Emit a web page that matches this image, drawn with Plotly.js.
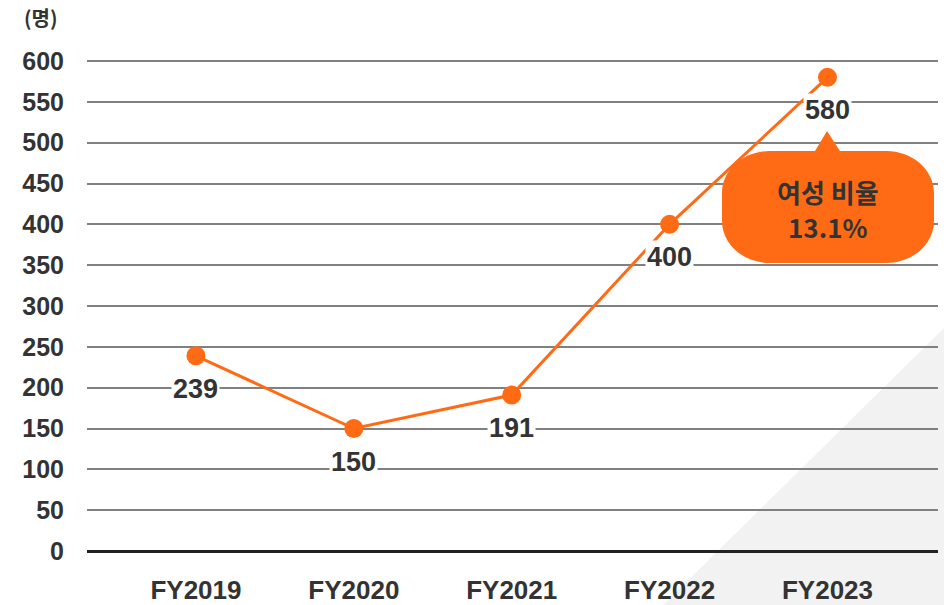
<!DOCTYPE html>
<html><head><meta charset="utf-8">
<script src="https://cdn.plot.ly/plotly-3.0.1.min.js"></script>
<style>html,body{margin:0;padding:0;background:#fff}#chart{width:944px;height:605px}</style>
</head><body><div id="chart"></div>
<script>
const categories = ['FY2019','FY2020','FY2021','FY2022','FY2023'];
const values = [239, 150, 191, 400, 580];
const yTicks = [0,50,100,150,200,250,300,350,400,450,500,550,600];
const unitLabel = '(명)';
const calloutLines = ['여성 비율', '13.1%'];

const W = 944, H = 605, L = 87, R = 6, T = 58, B = 54;
const pw = W - L - R, ph = H - T - B;
const fx = x => (x - L) / pw;
const fy = y => (H - B - y) / ph;
const P = (x, y) => fx(x).toFixed(5) + ',' + fy(y).toFixed(5);

const ORANGE = '#ff6b15';
const DARK = '#333333';
const NUMFONT = 'Liberation Sans, Arial, sans-serif';
const KRFONT = 'Noto Sans CJK KR, sans-serif';

// callout bubble path (pixels -> paper)
const bx0 = 722, bx1 = 934, by0 = 151, by1 = 263, rx = 48, ry = 42, k = 0.5523;
const bubble = 'M ' + P(bx0 + rx, by0) +
  ' L ' + P(815, by0) + ' L ' + P(827, 131) + ' L ' + P(840, by0) +
  ' L ' + P(bx1 - rx, by0) +
  ' C ' + P(bx1 - rx + rx * k, by0) + ' ' + P(bx1, by0 + ry - ry * k) + ' ' + P(bx1, by0 + ry) +
  ' L ' + P(bx1, by1 - ry) +
  ' C ' + P(bx1, by1 - ry + ry * k) + ' ' + P(bx1 - rx + rx * k, by1) + ' ' + P(bx1 - rx, by1) +
  ' L ' + P(bx0 + rx, by1) +
  ' C ' + P(bx0 + rx - rx * k, by1) + ' ' + P(bx0, by1 - ry + ry * k) + ' ' + P(bx0, by1 - ry) +
  ' L ' + P(bx0, by0 + ry) +
  ' C ' + P(bx0, by0 + ry - ry * k) + ' ' + P(bx0 + rx - rx * k, by0) + ' ' + P(bx0 + rx, by0) + ' Z';

const labelAnns = categories.map((c, i) => ({
  x: c, y: values[i], xref: 'x', yref: 'y', text: String(values[i]),
  showarrow: false, yshift: -33, bgcolor: '#ffffff', borderpad: 1,
  font: {family: NUMFONT, size: 27, color: DARK, weight: 'bold'}
}));

const trace = {
  x: categories, y: values, type: 'scatter', mode: 'lines+markers',
  line: {color: ORANGE, width: 3},
  marker: {color: ORANGE, size: 19},
  hoverinfo: 'skip', cliponaxis: false
};

const layout = {
  width: W, height: H,
  margin: {l: L, r: R, t: T, b: B, pad: 0},
  paper_bgcolor: '#ffffff', plot_bgcolor: 'rgba(0,0,0,0)',
  showlegend: false,
  xaxis: {
    type: 'category', range: [-0.69, 4.7], showgrid: false, zeroline: false,
    showline: false, ticks: '', ticklabelstandoff: 21,
    tickfont: {family: NUMFONT, size: 26, color: DARK, weight: 'bold'}, fixedrange: true
  },
  yaxis: {
    range: [0, 603.7], tickvals: yTicks, ticktext: yTicks.map(String),
    showgrid: true, gridcolor: '#808080', gridwidth: 2,
    zeroline: true, zerolinecolor: '#222222', zerolinewidth: 3,
    showline: false, ticks: '', ticklabelstandoff: 22,
    tickfont: {family: NUMFONT, size: 25, color: DARK, weight: 'bold'}, fixedrange: true
  },
  shapes: [
    {type: 'path', xref: 'paper', yref: 'paper', layer: 'below',
     path: 'M ' + P(944, 328) + ' L ' + P(944, 605) + ' L ' + P(663, 605) + ' Z',
     fillcolor: '#f2f2f2', line: {width: 0}},
    {type: 'path', xref: 'paper', yref: 'paper', layer: 'above',
     path: bubble, fillcolor: ORANGE, line: {width: 0}}
  ],
  annotations: labelAnns.concat([
    {xref: 'paper', yref: 'paper', x: fx(41), y: fy(17), text: unitLabel, showarrow: false,
     xanchor: 'center', yanchor: 'middle',
     font: {family: KRFONT, size: 20, color: DARK, weight: 'bold'}},
    {xref: 'paper', yref: 'paper', x: fx(828), y: fy(191), text: calloutLines[0], showarrow: false,
     xanchor: 'center', yanchor: 'middle',
     font: {family: KRFONT, size: 26, color: DARK, weight: 'bold'}},
    {xref: 'paper', yref: 'paper', x: fx(828), y: fy(226), text: calloutLines[1], showarrow: false,
     xanchor: 'center', yanchor: 'middle',
     font: {family: KRFONT, size: 26, color: DARK, weight: 'bold'}}
  ])
};

Plotly.newPlot('chart', [trace], layout, {displayModeBar: false, staticPlot: true});
</script></body></html>
